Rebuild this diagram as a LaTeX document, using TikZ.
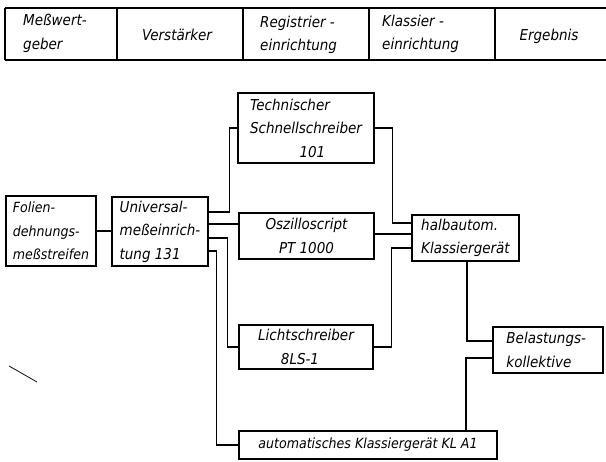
\documentclass[tikz,border=0pt]{standalone}
\usepackage{fontspec}
\setmainfont{DejaVu Sans Condensed}
\usetikzlibrary{calc}
\begin{document}
\begin{tikzpicture}[x=1pt,y=-1pt,
  every node/.style={font=\fontsize{15}{23.5}\selectfont\itshape, inner sep=0pt},
  box/.style={draw, line width=1.4pt, align=left},
  wire/.style={line width=1.2pt},
  rule/.style={line width=1.2pt},
  head/.style={align=left}
]
\useasboundingbox (0,0) rectangle (606,462);
% header table
\draw[rule] (5,8) -- (606,8);
\draw[rule] (5,60) -- (606,60);
\foreach \x in {5,117,243,369,495} \draw[rule] (\x,8) -- (\x,60);
\node[head, anchor=west] (h1) at (23,33.5) {Meßwert-\\geber};
\node[head] (h2) at (177,35) {Verstärker};
\node[head, anchor=west] (h3) at (260,35) {Registrier -\\einrichtung};
\node[head, anchor=west] (h4) at (382,34) {Klassier -\\einrichtung};
\node[head] (h5) at (549,36) {Ergebnis};
% boxes
\node[box, minimum width=90pt, minimum height=70pt, font=\fontsize{14}{23.5}\selectfont\itshape] (fol) at (51,231) {Folien-\\dehnungs-\\meßstreifen};
\node[box, minimum width=96pt, minimum height=69pt] (uni) at (160,231.5) {Universal-\\meßeinrich-\\tung 131};
\node[box, minimum width=136pt, minimum height=70pt] (tec) at (306,128) {Technischer\\Schnellschreiber\\\hspace*{3.3em}101};
\node[box, minimum width=135pt, minimum height=46pt, align=center] (osz) at (306.5,236) {Oszilloscript\\PT 1000};
\node[box, minimum width=134pt, minimum height=44pt, align=center] (lic) at (306,347) {Lichtschreiber\\8LS-1\hspace*{0.8em}};
\node[box, minimum width=107pt, minimum height=46pt] (hal) at (465.5,238) {halbautom.\\Klassiergerät};
\node[box, minimum width=110pt, minimum height=46pt] (bel) at (548,350) {Belastungs-\\kollektive\hspace*{1.2em}};
\node[box, minimum width=258pt, minimum height=28pt, font=\fontsize{14}{20}\selectfont\itshape] (kla) at (368,445) {automatisches Klassiergerät KL A1};
% connectors
\coordinate (u1) at ($(uni.east)+(0,-19.5)$);
\coordinate (u2) at ($(uni.east)+(0,-7.5)$);
\coordinate (u3) at ($(uni.east)+(0,6.5)$);
\coordinate (u4) at ($(uni.east)+(0,19.5)$);
\draw[wire] (fol.east) -- (fol.east -| uni.west);
\draw[wire] (u1) -- ++(21,0) |- (tec.west);
\draw[wire] (u2) -- (u2 -| osz.west);
\draw[wire] (u3) -- ++(19,0) |- (lic.west);
\draw[wire] (u4) -- ++(8,0) |- (kla.west);
\draw[wire] (tec.east) -- ++(18,0) |- ($(hal.west)+(0,-15)$);
\draw[wire] ($(osz.east)+(0,-2)$) -- ($(osz.east -| hal.west)+(0,-2)$);
\draw[wire] (lic.east) -- ++(18,0) |- ($(hal.west)+(0,10)$);
\draw[wire] ($(hal.south)+(1.5,0)$) |- ($(bel.west)+(0,-9)$);
\draw[wire] ($(kla.north)+(98,0)$) |- ($(bel.west)+(0,8)$);
% stray mark
\draw[line width=0.8pt] (9,366) -- (37,382);
\end{tikzpicture}
\end{document}
